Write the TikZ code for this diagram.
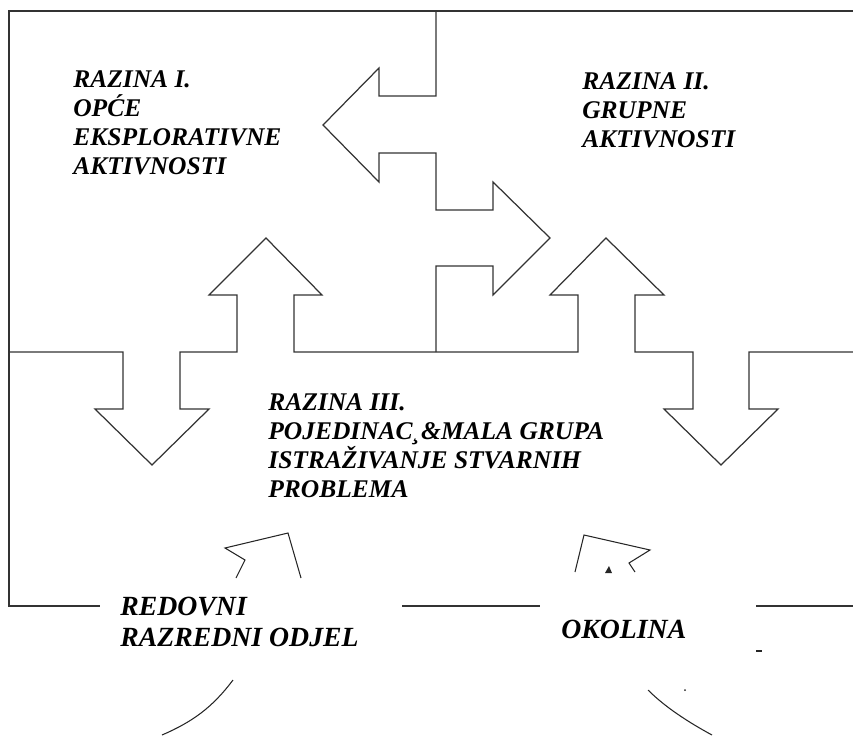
\documentclass[tikz,border=0pt]{standalone}
\usepackage{fontspec}
\setmainfont{Liberation Serif}

\begin{document}
\begin{tikzpicture}[x=0.02cm, y=-0.02cm, line/.style={draw=black!80, line width=0.7pt, line join=miter}, thinline/.style={draw=black!85, line width=0.6pt}, leveltext/.style={inner sep=0pt, anchor=north west, align=left, font=\fontsize{14.5}{16.5}\selectfont\bfseries\itshape}, placetext/.style={leveltext, font=\fontsize{15.8}{17.6}\selectfont\bfseries\itshape}]

    \useasboundingbox (0,0) rectangle (853,735);

    %Nodes
    \node[leveltext](razina1) at (73,70){RAZINA I.\\OPĆE\\EKSPLORATIVNE\\AKTIVNOSTI};
    \node[leveltext](razina2) at (582,72){RAZINA II.\\GRUPNE\\AKTIVNOSTI};
    \node[leveltext](razina3) at (268,393){RAZINA III.\\POJEDINAC¸\&MALA GRUPA\\ISTRAŽIVANJE STVARNIH\\PROBLEMA};
    \node[placetext](odjel) at (120,597){REDOVNI\\RAZREDNI ODJEL};
    \node[placetext](okolina) at (561,620){OKOLINA};

    %Lines
    \draw[line] (853,11) -- (9,11) -- (9,606) -- (100,606);
    \draw[line] (402,606) -- (540,606);
    \draw[line] (756,606) -- (853,606);
    \draw[line] (9,352) -- (123,352) -- (123,409) -- (95,409) -- (152,465) -- (209,409) -- (180,409) -- (180,352)
        -- (237,352) -- (237,295) -- (209,295) -- (266,238) -- (322,295) -- (294,295) -- (294,352)
        -- (578,352) -- (578,295) -- (550,295) -- (606,238) -- (664,295) -- (635,295) -- (635,352)
        -- (693,352) -- (693,409) -- (664,409) -- (721,465) -- (778,409) -- (749,409) -- (749,352) -- (853,352);
    \draw[line] (436,11) -- (436,96) -- (379,96) -- (379,68) -- (323,125) -- (379,182) -- (379,153) -- (436,153)
        -- (436,210) -- (493,210) -- (493,182) -- (550,238) -- (493,295) -- (493,266) -- (436,266) -- (436,352);

    %Broken arrows
    \draw[thinline] (236,578) -- (245,560) -- (225,548) -- (288,533) -- (301,578);
    \draw[thinline] (575,572) -- (584,535) -- (650,550) -- (629,563) -- (635,572);
    \draw[thinline] (233,680) .. controls (212,708) and (192,722) .. (162,735);
    \draw[thinline] (648,690) .. controls (665,707) and (688,722) .. (712,735);
    \fill[black!85] (605,573) -- (609,566) -- (612,573) -- cycle;
    \draw[thinline] (756,651) -- (762,651);
    \fill[black!85] (685,690) circle (1);

\end{tikzpicture}
\end{document}
